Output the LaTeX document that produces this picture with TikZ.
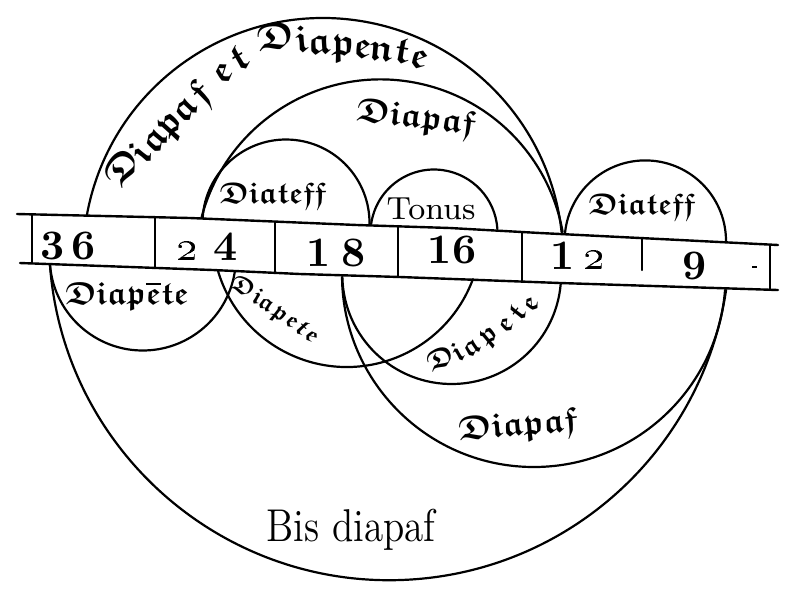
\documentclass[tikz,border=0pt]{standalone}
\DeclareFontFamily{U}{frk}{}
\DeclareFontShape{U}{frk}{m}{n}{<-> eufb10}{}
\newcommand{\frakfont}{\usefont{U}{frk}{m}{n}}
\tikzset{
  curve/.style={line width=0.55pt, line cap=round, line join=round},
  bandline/.style={line width=0.6pt, line cap=round, line join=round},
  numtext/.style={font=\fontsize{10.5}{10.5}\selectfont\bfseries, inner sep=0pt},
  fraklabel/.style={font=\fontsize{#1}{#1}\selectfont\frakfont, inner sep=0pt},
  romanlabel/.style={font=\fontsize{#1}{#1}\selectfont, inner sep=0pt},
  letter/.style={font=\fontsize{#1}{#1}\selectfont\frakfont, inner sep=0pt, anchor=base},
}
\begin{document}
\begin{tikzpicture}[x=0.25pt,y=-0.25pt]
\useasboundingbox (0,0) rectangle (809,601);
% ---------- upper arcs (centre, radius, angles measured with y pointing down)
\draw[curve] (323,258) ++(-169.6:240) arc[start angle=-169.6, end angle=-6.2, radius=240];
\draw[curve] (380.5,264.4) ++(-165.4:185) arc[start angle=-165.4, end angle=-10.1, radius=185];
\draw[curve] (286,223) ++(-176.6:83.5) arc[start angle=-176.6, end angle=0.7, radius=83.5];
\draw[curve] (434,233) ++(-172:63.5) arc[start angle=-172, end angle=-3.6, radius=63.5];
\draw[curve] (645.3,241.1) ++(-174.9:80.7) arc[start angle=-174.9, end angle=0.6, radius=80.7];
% ---------- lower arcs
\draw[curve] (142.8,257.4) ++(175.3:93.1) arc[start angle=175.3, end angle=8.4, radius=93.1];
\draw[curve] (346.8,232.6) ++(163.4:134.4) arc[start angle=163.4, end angle=20.2, radius=134.4];
\draw[curve] (451.7,274.6) ++(178.7:109.4) arc[start angle=178.7, end angle=4.9, radius=109.4];
\draw[curve] (533.8,275.2) ++(179.5:191.8) arc[start angle=179.5, end angle=4.4, radius=191.8];
\draw[curve] (389.4,239.8) ++(175.8:340.4) arc[start angle=175.8, end angle=8.5, radius=340.4];
% ---------- band
\draw[bandline] (17,214) -- (190,218) -- (357,225) -- (450,228) -- (540,233) -- (680,240) -- (778,245);
\draw[bandline] (20,263) -- (213,270) -- (300,274) -- (400,277) -- (560,283) -- (778,290);
\draw[bandline] (32,215) -- (32,263);
\draw[bandline] (155,217) -- (155,268);
\draw[bandline] (275,222) -- (275,273);
\draw[bandline] (398,226) -- (398,277);
\draw[bandline] (522,232) -- (522,281);
\draw[bandline] (642,238) -- (642,270);
\draw[bandline] (770,245) -- (770,290);
% ---------- numbers
\node[numtext] (n36) at (68,246) {3\,6};
\node[numtext] (n24) at (207,247) {\oldstylenums{2}\hspace{0.35em}4};
\node[numtext] (n18) at (336,253) {1\hspace{0.25em}8};
\node[numtext] (n16) at (452,250) {16};
\node[numtext] (n12) at (578,256) {1\hspace{0.2em}\oldstylenums{2}};
\node[numtext] (n9) at (695,266) {9};
\draw[line width=0.3pt] (752,267) -- (757,267);
% ---------- outer label: Diapaf et Diapente
\foreach \c/\x/\y/\r [count=\i] in {D/132/174/55, i/150/161/52, a/163/147/50, p/177/131/48, a/192/116/46, f/209/101/44,
   e/229/80/35, t/245/69/30,
   D/277/49/8, i/303/52/5, a/320/54/3, p/343/55.5/0, e/362/57.5/-3, n/381/61/-6, t/400/62.5/-10, e/417/68/-15}
  \node[letter=9.5, rotate=\r] (outer\i) at (\x,\y) {\c};
% ---------- middle lower Diapete
\foreach \c/\x/\y/\r [count=\i] in {D/240/293/-25, i/254/303/-30, a/263/309.5/-33, p/276/318.5/-38, e/288/326.5/-42, t/297/332.5/-47, e/307/339.5/-52}
  \node[letter=6, rotate=\r] (midd\i) at (\x,\y) {\c};
% ---------- right lower Diapete
\foreach \c/\x/\y/\r [count=\i] in {D/444/367/25, i/462/360/30, a/475.5/353.5/34, p/493/341.5/40, e/511/330/46, t/524/318.5/52, e/537/307.5/57}
  \node[letter=7, rotate=\r] (rght\i) at (\x,\y) {\c};
% ---------- other labels
\node[fraklabel=8.5, rotate=-7] (diapafup) at (416,119) {Diapaf};
\node[fraklabel=7.5] (diateffl) at (273,196) {Diateff};
\node[romanlabel=8] (tonus) at (431,209) {Tonus};
\node[fraklabel=7.5] (diatessr) at (642,207) {Diateff};
\node[fraklabel=8] (diapetel) at (127,296) {Diap$\overline{\hbox{e}}$te};
\node[fraklabel=8.5, rotate=5] (diapaflow) at (518,427) {Diapaf};
\node[romanlabel=11.5] (bis) at (351,530) {\scalebox{0.85}[1]{Bis diapaf}};
\end{tikzpicture}
\end{document}
